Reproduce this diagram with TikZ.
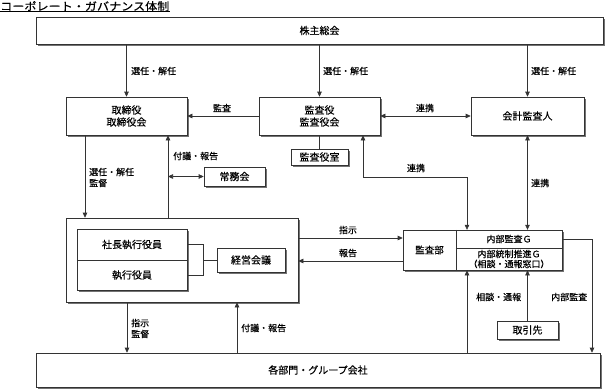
\documentclass[tikz,border=0pt]{standalone}
\usepackage{fontspec}
\setmainfont[FakeBold=0.35]{Noto Sans CJK JP}
\newfontfamily\titlefont[FakeBold=0.35,FakeStretch=1.1]{Noto Sans CJK JP}
\usetikzlibrary{arrows.meta,shadows,calc}
\begin{document}
\begin{tikzpicture}[x=1pt,y=-1pt,
  ln/.style={line width=0.6pt,draw=black!80},
  arr/.style={ln,-{Triangle[length=5pt,width=4.5pt]}},
  darr/.style={ln,{Triangle[length=5pt,width=4.5pt]}-{Triangle[length=5pt,width=4.5pt]}},
  box/.style={ln,fill=white,rectangle,inner sep=0pt,font=\fontsize{10}{12}\selectfont,
    drop shadow={shadow xshift=1.6pt,shadow yshift=-1.6pt,fill=black!55,opacity=1}},
  plain/.style={rectangle,inner sep=0pt,font=\fontsize{10}{12}\selectfont},
  lbl/.style={inner sep=0pt,font=\fontsize{9}{11}\selectfont,align=left}
]
\useasboundingbox (0,0) rectangle (605,389);

% title
\node[anchor=south west,inner sep=0pt,font=\titlefont\fontsize{11}{13}\selectfont] (title) at (0,11.5) {コーポレート・ガバナンス体制};
\draw[line width=0.8pt] ($(title.south west)+(0,-0.2)$) -- ($(title.south east)+(0,-0.2)$);

% boxes
\node[box,minimum width=567,minimum height=27] (kabu) at (319.5,30.5) {株主総会};
\node[box,minimum width=121,minimum height=38,align=center] (tori) at (126.5,116) {取締役\\取締役会};
\node[box,minimum width=121,minimum height=38,align=center] (kansa) at (319.5,116) {監査役\\監査役会};
\node[box,minimum width=113,minimum height=38] (kaikei) at (527.5,116) {会計監査人};
\node[box,minimum width=57,minimum height=16] (kshitsu) at (319.5,157) {監査役室};
\node[box,minimum width=61,minimum height=19] (jomu) at (234.5,176.5) {常務会};

\node[box,minimum width=232,minimum height=84] (outer) at (182,260) {};
\node[box,minimum width=110,minimum height=61] (inner) at (132,259.5) {};
\node[plain,minimum width=110,minimum height=31] (shacho) at (132,244.5) {社長執行役員};
\node[plain,minimum width=110,minimum height=30] (shikko) at (132,275) {執行役員};
\draw[ln] (shacho.south west) -- (shacho.south east);
\node[box,minimum width=68,minimum height=24] (keiei) at (251,260) {経営会議};

\node[box,minimum width=159,minimum height=40] (kansabu) at (482.5,250) {};
\node[plain,minimum width=53,minimum height=40,font=\fontsize{9.5}{11}\selectfont] (kbu) at (429.5,250) {監査部};
\node[plain,minimum width=106,minimum height=18,font=\fontsize{9}{11}\selectfont] (naibu) at (509,239) {内部監査Ｇ};
\node[plain,minimum width=106,minimum height=22,align=center,font=\fontsize{9}{10}\selectfont] (naitou) at (509,259) {内部統制推進Ｇ\\（相談・通報窓口）};
\draw[ln] (kbu.north east) -- (kbu.south east);
\draw[ln] (naibu.south west) -- (naibu.south east);

\node[box,minimum width=61,minimum height=18] (torihiki) at (527.5,330) {取引先};
\node[box,minimum width=564,minimum height=34] (kakubu) at (318,370) {各部門・グループ会社};

% connectors
\draw[arr] (kabu.south -| tori.north) -- (tori.north);
\draw[arr] (kabu.south -| kansa.north) -- (kansa.north);
\draw[arr] (kabu.south -| kaikei.north) -- (kaikei.north);
\draw[arr] (kansa.west) -- (tori.east);
\draw[darr] (kansa.east) -- (kaikei.west);
\draw[ln] (kansa.south) -- (kshitsu.north);
\draw[darr] (kansa.south -| 363,0) |- (467,177) -- (naibu.north -| 467,0);
\draw[darr] (kaikei.south) -- (kaikei.south |- naibu.north);
\draw[arr] (tori.south -| 85,0) -- (outer.north -| 85,0);
\draw[arr] (outer.north -| 168,0) -- (tori.south -| 168,0);
\draw[darr] (jomu.west -| 168,0) -- (jomu.west);
\draw[ln] (shacho.east) -- ++(16,0) |- (shikko.east);
\draw[ln] (keiei.west -| 203,0) -- (keiei.west);
\draw[arr] (outer.east |- 0,238) -- (kansabu.west |- 0,238);
\draw[arr] (kansabu.west |- 0,261) -- (outer.east |- 0,261);
\draw[arr] (outer.south -| 127,0) -- (kakubu.north -| 127,0);
\draw[arr] (kakubu.north -| 237,0) -- (outer.south -| 237,0);
\draw[arr] (kakubu.north -| 467,0) -- (kansabu.south -| 467,0);
\draw[arr] (torihiki.north) -- (torihiki.north |- kansabu.south);
\draw[arr] (naibu.east) -- (592,239) -- (kakubu.north -| 592,0);

% labels
\node[lbl,anchor=west] (l1) at (131,71) {選任・解任};
\node[lbl,anchor=west] (l2) at (323,71) {選任・解任};
\node[lbl,anchor=west] (l3) at (531,71) {選任・解任};
\node[lbl] (l4) at (222,108) {監査};
\node[lbl] (l5) at (425,108) {連携};
\node[lbl] (l6) at (416,168) {連携};
\node[lbl,anchor=west] (l7) at (531,183) {連携};
\node[lbl,anchor=west] (l8) at (173,156) {付議・報告};
\node[lbl,anchor=west] (l9) at (89,177.5) {選任・解任\\監督};
\node[lbl] (l10) at (348,230) {指示};
\node[lbl] (l11) at (348,253) {報告};
\node[lbl,anchor=west] (l12) at (131,328.5) {指示\\監督};
\node[lbl,anchor=west] (l13) at (241,328) {付議・報告};
\node[lbl,anchor=west] (l14) at (476,297) {相談・通報};
\node[lbl,anchor=west] (l15) at (551,297) {内部監査};
\end{tikzpicture}
\end{document}
